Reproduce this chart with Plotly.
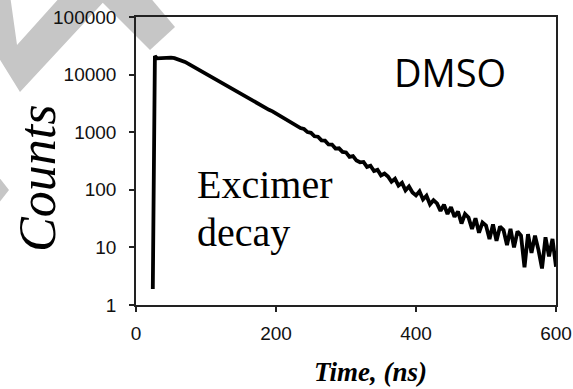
import plotly.graph_objects as go

# ---- data ----
time_ns = [24, 27, 30, 35, 40, 45, 50, 55, 60, 65, 70, 75, 80, 85, 90, 95, 100,
           105, 110, 115, 120, 125, 130, 135, 140, 145, 150, 155, 160, 165, 170,
           175, 180, 185, 190, 195, 200, 205, 210, 215, 220, 225, 230, 235, 240,
           245, 250, 255, 260, 265, 270, 275, 280, 285, 290, 295, 300, 305, 310,
           315, 320, 325, 330, 335, 340, 345, 350, 355, 360, 365, 370, 375, 380,
           385, 390, 395, 400, 405, 410, 415, 420, 425, 430, 435, 440, 445, 450,
           455, 460, 465, 470, 475, 480, 485, 490, 495, 500, 505, 510, 515, 520,
           525, 530, 535, 540, 545, 550, 555, 560, 565, 570, 575, 580, 585, 590,
           595, 600]
counts = [1.9, 21000, 19200, 19500, 19800, 19900, 19700, 19300, 18600, 17600,
          16600, 15400, 14200, 13100, 12100, 11100, 10300, 9500, 8800, 8100,
          7500, 6950, 6380, 5930, 5440, 5060, 4640, 4320, 3950, 3690, 3370,
          3150, 2870, 2690, 2450, 2300, 2120, 1920, 1830, 1640, 1550, 1390,
          1330, 1180, 1135, 1005, 975, 850, 835, 720, 712, 612, 610, 520, 525,
          455, 445, 372, 385, 322, 300, 305, 250, 262, 212, 222, 178, 192, 170,
          138, 155, 118, 132, 98, 114, 90, 80, 94, 68, 79, 56, 66, 58, 43, 55,
          38, 50, 34, 42, 26, 38, 33, 21, 32, 18, 27, 24, 14, 25, 13, 23, 20,
          11, 21, 10, 19, 16, 4.5, 17, 8, 16, 9, 4.3, 15, 7, 14, 4.6]
x_ticks = [0, 200, 400, 600]
y_ticks = [1, 10, 100, 1000, 10000, 100000]
y_tick_text = ["1", "10", "100", "1000", "10000", "100000"]

W, H = 573, 389
L, R, T, B = 136, 17, 17, 84
PW, PH = W - L - R, H - T - B


def px(x, y):
    return (x - L) / PW, (H - B - y) / PH


def path(points):
    pts = [px(x, y) for x, y in points]
    return "M " + " L ".join(f"{a:.4f},{b:.4f}" for a, b in pts) + " Z"


fig = go.Figure()
fig.add_trace(go.Scatter(x=time_ns, y=counts, mode="lines",
                         line=dict(color="black", width=3.8),
                         showlegend=False, hoverinfo="skip"))

gray = "#c6c6c6"
for poly in [
    [(-40, -5), (10, -5), (17, 45), (62, -5), (110, -5), (20, 92)],
    [(100, -5), (148, -5), (175, 27), (150, 50), (100, 0)],
    [(-5, 172), (9, 190), (-5, 208)],
]:
    fig.add_shape(type="path", path=path(poly), xref="paper", yref="paper",
                  fillcolor=gray, line=dict(width=0), layer="below")

axis_common = dict(showline=True, mirror=True, linecolor="#222", linewidth=1.5,
                   ticks="outside", ticklen=5, tickwidth=1.5, tickcolor="#222",
                   showgrid=False, zeroline=False, automargin=False,
                   tickfont=dict(family="Liberation Sans", size=19, color="#111"))

fig.update_xaxes(range=[0, 600], tickvals=x_ticks, ticklabelstandoff=5,
                 **axis_common)
fig.update_yaxes(type="log", range=[0, 5], tickvals=y_ticks,
                 ticktext=y_tick_text, ticklabelstandoff=9, **axis_common)

ann = []
cx, cy = px(37, 179)
ann.append(dict(text="Counts", x=cx, y=cy, xref="paper", yref="paper",
                showarrow=False, textangle=-90, xanchor="center",
                yanchor="middle",
                font=dict(family="Liberation Serif", size=52, style="italic",
                          color="black")))
cx, cy = px(370, 372)
ann.append(dict(text="Time, (ns)", x=cx, y=cy, xref="paper", yref="paper",
                showarrow=False, xanchor="center", yanchor="middle",
                font=dict(family="Liberation Serif", size=27, style="italic",
                          weight="bold", color="black")))
cx, cy = px(195, 184)
ann.append(dict(text="Excimer", x=cx, y=cy, xref="paper", yref="paper",
                showarrow=False, xanchor="left", yanchor="middle",
                font=dict(family="Liberation Serif", size=40, color="black")))
cx, cy = px(195, 232)
ann.append(dict(text="decay", x=cx, y=cy, xref="paper", yref="paper",
                showarrow=False, xanchor="left", yanchor="middle",
                font=dict(family="Liberation Serif", size=40, color="black")))
cx, cy = px(392, 72)
ann.append(dict(text="DMSO", x=cx, y=cy, xref="paper", yref="paper",
                showarrow=False, xanchor="left", yanchor="middle",
                font=dict(family="Open Sans", size=38, color="black")))

fig.update_layout(width=W, height=H, margin=dict(l=L, r=R, t=T, b=B),
                  paper_bgcolor="white", plot_bgcolor="rgba(0,0,0,0)",
                  annotations=ann)

fig.write_html("out.html", config={"displayModeBar": False},
               post_script="document.body.style.margin='0';"
                           "document.body.style.overflow='hidden';")
